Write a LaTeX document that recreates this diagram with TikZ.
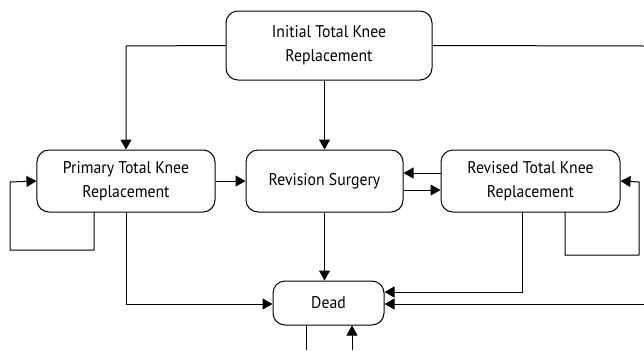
\documentclass[tikz,border=0pt]{standalone}
\usepackage{fontspec}
\setmainfont[FakeStretch=0.93]{PT Sans}
\usetikzlibrary{arrows.meta}
\begin{document}
\begin{tikzpicture}[x=1bp,y=-1bp,
  box/.style={draw, line width=1bp, rounded corners=12bp, align=center, font=\fontsize{17}{24}\selectfont, inner sep=0pt},
  conn/.style={line width=1bp, -{Triangle[length=10bp,width=11bp]}},
  plain/.style={line width=1bp}]
\useasboundingbox (0,0) rectangle (644,350);
\node[box, minimum width=206bp, minimum height=69bp] (init) at (329,45.5) {Initial Total Knee\\Replacement};
\node[box, minimum width=178bp, minimum height=62bp] (prim) at (126,181) {Primary Total Knee\\Replacement};
\node[box, minimum width=157bp, minimum height=62bp] (rev) at (324.5,181) {Revision Surgery};
\node[box, minimum width=179bp, minimum height=62bp] (revd) at (530.5,181) {Revised Total Knee\\Replacement};
\node[box, minimum width=111bp, minimum height=44bp] (dead) at (328.5,303) {Dead};
\coordinate (e1) at (644,46);
\coordinate (e2) at (644,304);
\coordinate (b1) at (306,350);
\coordinate (b2) at (352,350);
% from initial
\draw[conn] (init.west) -- (126,46) -- (prim.north);
\draw[conn] (init.south -| rev.north) -- (rev.north);
\draw[plain] (init.east) -- (e1);
% primary
\draw[conn] (prim.east) -- (rev.west);
\draw[conn] (94,212) -- (94,250) -- (10,250) -- (10,182) -- (prim.west);
\draw[conn] (prim.south) -- (126,304) -- (dead.west |- 0,304);
% revision <-> revised
\draw[conn] (revd.west |- 0,173) -- (rev.east |- 0,173);
\draw[conn] (rev.east |- 0,190) -- (revd.west |- 0,190);
\draw[conn] (rev.south) -- (rev.south |- dead.north);
% revised
\draw[conn] (565,212) -- (565,255) -- (639,255) -- (639,182) -- (revd.east);
\draw[conn] (522,212) -- (522,292) -- (dead.east |- 0,292);
\draw[conn] (e2) -- (dead.east |- e2);
% below dead
\draw[plain] (dead.south -| b1) -- (b1);
\draw[conn] (b2) -- (b2 |- dead.south);
\end{tikzpicture}
\end{document}
